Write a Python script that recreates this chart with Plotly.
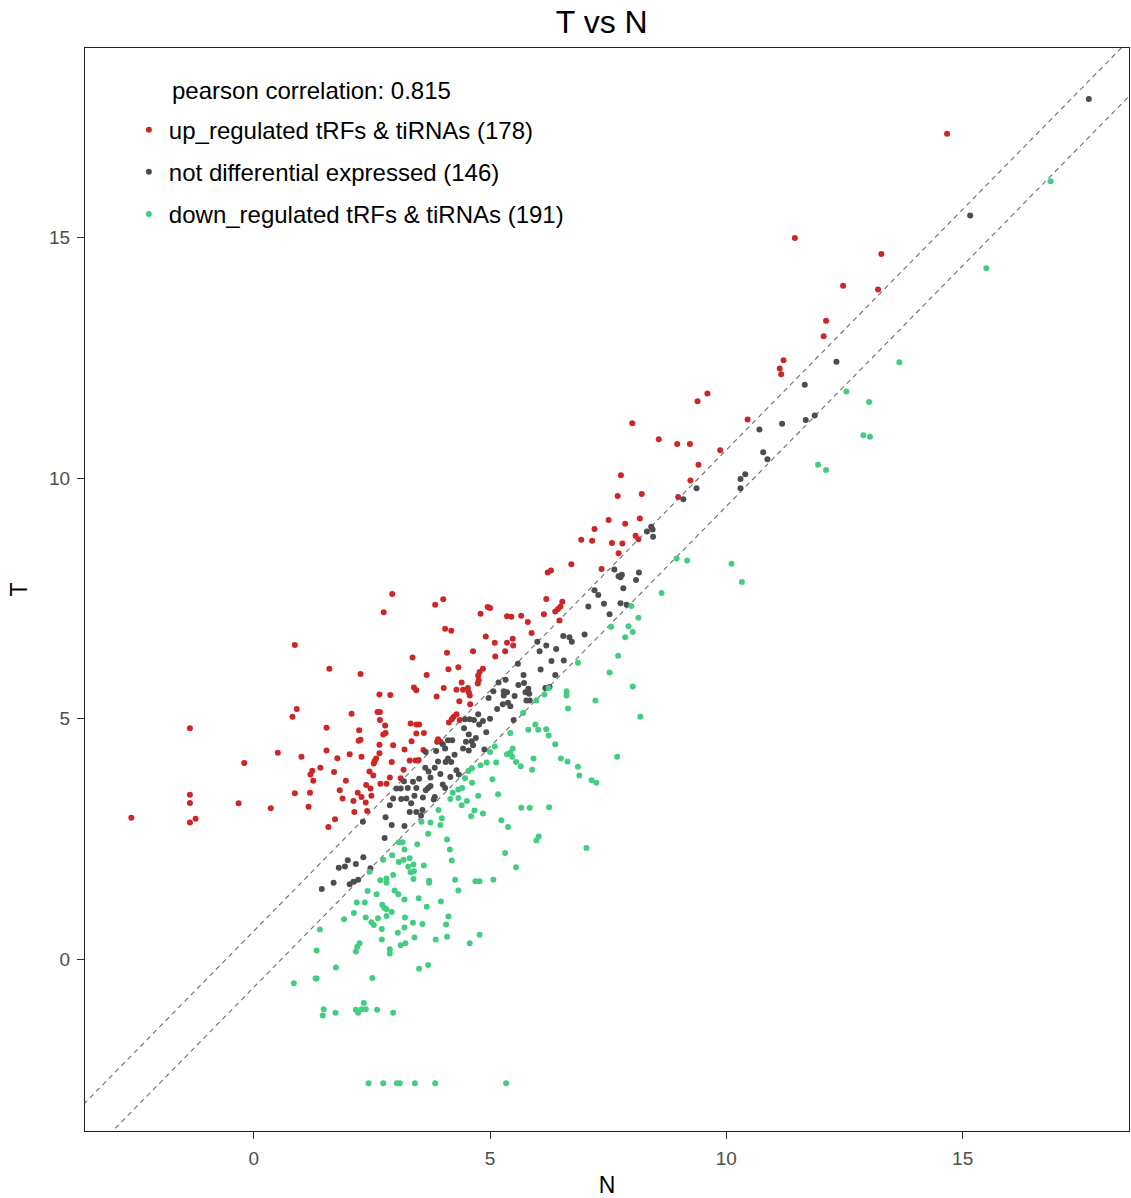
import math
import plotly.graph_objects as go

# ---------------- data (N, T) ----------------
up_N = [-1.35, -0.20, 0.51, -1.35, -1.35, -0.32, 0.36, -2.59, -1.23, -1.35,
        2.93, 2.75, 0.87, 1.60, 2.26, 3.36, 2.66, 2.89, 3.39, 3.44, 0.91, 0.82, 2.07, 2.62, 2.67,
        2.67, 2.78, 1.54, 2.23, 2.74, 2.79, 3.32, 3.44, 3.50, 3.44, 2.22, 2.26, 2.66, 3.34, 1.54,
        1.01, 1.77, 2.03, 2.28, 2.66, 2.59, 2.56, 2.54, 3.19, 3.30, 3.42, 3.49, 2.92, 1.41, 1.24,
        1.20, 1.26, 1.70, 1.95, 3.17, 0.87, 1.19, 1.82, 2.38, 2.47, 2.53, 2.68, 2.81, 2.88, 3.11,
        1.88, 2.20, 2.28, 2.49, 2.11, 2.37, 1.16, 2.13, 2.40, 1.72, 1.58,
        6.22, 6.29, 3.84, 4.01, 4.80, 4.95, 5.00, 6.19, 5.36, 5.45, 5.66, 5.80, 6.14, 6.38, 6.44,
        4.05, 4.18, 5.88, 4.91, 5.10, 5.36, 5.48, 5.49, 5.32, 5.11, 4.64, 4.09, 4.12, 4.33, 4.85,
        4.78, 4.75, 4.76, 4.74, 3.66, 4.02, 4.29, 4.43, 4.53, 4.55, 4.57, 3.87, 4.35, 4.58, 4.29,
        4.23, 4.19, 4.13, 4.36, 3.90, 3.95, 3.88, 3.59,
        7.70, 8.21, 9.24, 8.98, 7.51, 7.86, 8.17, 7.21, 6.93, 7.16, 7.58, 7.80, 8.08, 8.14, 7.72,
        6.72, 7.36, 6.53, 6.49, 6.47,
        9.60, 9.39, 8.01, 8.57, 8.96, 9.23, 10.45, 9.87, 9.41, 7.77,
        14.67, 11.45, 13.28, 12.47, 13.21, 12.11, 12.06, 11.21, 11.13, 11.16,
        2.95, 3.60, 4.40, 2.45]
up_T = [4.80, 4.08, 4.29, 3.42, 3.25, 3.24, 3.14, 2.94, 2.92, 2.84,
        7.59, 7.21, 6.53, 6.04, 5.93, 6.27, 5.50, 5.49, 5.65, 5.59, 5.20, 5.04, 5.10, 5.14, 5.14,
        4.97, 4.86, 4.81, 4.76, 4.67, 4.70, 4.90, 4.88, 4.88, 4.69, 4.54, 4.56, 4.46, 4.53, 4.34,
        4.21, 4.18, 4.26, 4.21, 4.28, 4.17, 4.12, 4.07, 4.36, 4.13, 4.13, 4.14, 4.10, 3.98, 3.92,
        3.84, 3.71, 3.89, 3.71, 3.94, 3.45, 3.46, 3.51, 3.62, 3.55, 3.82, 3.65, 3.65, 3.78, 3.76,
        3.34, 3.46, 3.37, 3.40, 3.29, 3.26, 3.17, 3.06, 3.08, 2.91, 2.75,
        8.04, 8.08, 7.37, 7.48, 7.18, 7.32, 7.30, 7.49, 7.13, 7.12, 7.14, 7.01, 7.17, 7.23, 7.28,
        6.87, 6.83, 6.78, 6.71, 6.58, 6.58, 6.66, 6.52, 6.40, 6.29, 6.40, 6.37, 6.03, 6.07, 6.04,
        5.97, 5.89, 5.80, 5.73, 5.91, 5.64, 5.60, 5.60, 5.64, 5.55, 5.48, 5.46, 5.36, 5.30, 5.09,
        5.04, 4.99, 4.92, 4.97, 4.57, 4.52, 4.52, 4.35,
        9.63, 9.67, 9.95, 9.61, 9.13, 9.05, 9.16, 8.94, 8.72, 8.70, 8.65, 8.64, 8.80, 8.73, 8.44,
        8.21, 8.11, 7.43, 7.33, 7.04,
        11.76, 11.60, 11.14, 10.81, 10.71, 10.71, 11.22, 10.58, 10.28, 10.06,
        17.16, 14.99, 14.66, 14.00, 13.92, 13.27, 12.95, 12.45, 12.28, 12.16,
        4.45, 4.70, 5.75, 3.90]

not_N = [3.18, 3.37, 3.44, 3.26, 3.02, 3.11, 2.95, 2.88, 3.12, 3.23, 3.33, 3.30, 3.44, 2.79, 2.31,
         2.92, 3.19,
         2.77, 2.32, 1.99, 1.93, 1.80, 2.16, 2.47, 1.69, 2.03, 2.11, 2.21, 1.44,
         6.00, 6.19, 6.05, 6.40, 5.59, 6.07, 5.71, 5.72, 5.81, 5.75, 6.38, 6.17, 6.26, 5.33, 5.18,
         5.07, 4.97, 5.29, 5.36, 5.29, 5.52, 5.27, 5.38, 5.43, 5.83, 5.77, 5.84, 4.75, 4.77, 4.47,
         4.57, 4.66, 4.92, 4.55, 4.49, 4.61, 4.64, 4.55, 4.43, 4.88, 5.50, 4.11, 4.00, 4.05, 3.86,
         3.64, 4.11, 4.06, 4.18, 3.90, 3.63, 3.83, 4.29, 4.34, 4.16, 3.74, 4.00, 4.05, 3.69, 3.74,
         3.64, 3.83, 3.81, 3.58, 3.57, 3.54,
         9.37, 9.09, 8.41, 8.44, 8.32, 8.45, 7.63, 7.72, 7.79, 7.76, 8.15, 8.09, 7.82, 7.21, 7.29,
         7.08, 7.41, 7.76, 7.89, 7.53, 6.55, 6.68, 6.73, 7.00, 6.56,
         11.66, 10.70, 11.18, 11.68, 11.87, 10.78, 10.87, 10.30, 10.40, 10.30,
         17.67, 15.16, 12.33,
         3.95, 4.25, 4.70, 5.00, 5.15, 4.45, 3.70, 3.40, 5.60, 6.30, 4.85, 3.50, 4.20]
not_T = [3.70, 3.69, 3.56, 3.56, 3.55, 3.55, 3.34, 3.20, 3.33, 3.34, 3.24, 3.06, 3.06, 2.95, 2.86,
         2.79, 2.77,
         2.52, 2.12, 2.06, 1.93, 1.90, 1.98, 1.89, 1.59, 1.56, 1.61, 1.65, 1.46,
         6.60, 6.52, 6.40, 6.45, 6.14, 6.02, 5.91, 5.74, 5.62, 5.55, 5.91, 5.64, 5.66, 5.81, 5.75,
         5.57, 5.43, 5.57, 5.55, 5.48, 5.47, 5.30, 5.33, 5.26, 5.52, 5.38, 5.38, 5.09, 4.88, 4.99,
         4.99, 4.97, 4.72, 4.67, 4.52, 4.53, 4.45, 4.34, 4.38, 4.36, 4.97, 4.55, 4.47, 4.38, 4.33,
         4.31, 4.17, 4.10, 4.10, 4.11, 3.98, 3.98, 3.93, 3.84, 3.79, 3.78, 3.63, 3.56, 3.56, 3.60,
         3.51, 3.37, 3.32, 3.36, 3.10, 2.99,
         9.79, 9.56, 8.99, 8.93, 8.89, 8.78, 8.10, 7.96, 7.99, 7.94, 8.04, 7.88, 7.71, 7.67, 7.57,
         7.33, 7.39, 7.40, 7.37, 7.17, 6.72, 6.69, 6.60, 6.75, 6.21,
         11.94, 11.01, 11.13, 11.21, 11.30, 10.54, 10.39, 9.98, 10.08, 9.79,
         17.88, 15.46, 12.42,
         3.85, 4.25, 4.60, 5.00, 5.20, 4.80, 3.90, 3.40, 5.70, 6.20, 4.95, 3.75, 4.55]

down_N = [3.07, 3.15, 3.46, 3.19, 2.93, 2.74, 3.07, 3.17, 3.27, 3.38,
          3.32, 3.39, 3.38, 2.45, 2.68, 2.81, 2.81, 2.41, 2.98, 3.06,
          3.19, 3.49, 2.18, 2.35, 2.72, 2.76, 2.81, 2.12, 2.92, 1.91,
          2.37, 2.63, 2.81, 3.20, 2.49, 2.54, 3.37, 3.19, 2.71, 1.40,
          2.71, 3.40, 2.24, 2.19, 2.16, 3.11, 3.21, 2.88, 2.88, 1.33,
          3.50, 1.74, 1.31, 1.33, 2.51, 0.85, 2.33, 2.16, 2.21, 2.28,
          2.37, 2.61, 2.95, 1.48, 1.46, 1.73, 2.43, 2.74, 3.03, 3.09, 3.41,
          6.24, 6.15, 5.98, 5.70, 5.43, 5.81, 5.96, 6.02, 6.19, 6.24, 6.38, 5.10, 5.00, 5.48, 5.43,
          5.36, 5.47, 5.92, 5.13, 4.93, 4.80, 5.65, 5.89, 4.62, 4.54, 4.47, 4.62, 5.05, 4.41, 4.33,
          4.21, 4.33, 4.16, 5.17, 4.51, 3.91, 4.67, 4.60, 4.85, 3.98, 3.95, 3.74, 5.24, 5.38, 5.66,
          5.84, 6.25, 3.55,
          3.69, 4.09, 4.15, 4.19, 5.32, 5.55, 5.98, 6.03, 3.71, 3.71, 4.26, 4.33, 4.69, 4.78, 5.07,
          3.96, 3.66, 4.12, 3.57, 4.07, 4.09, 3.85, 4.78, 4.57, 3.69, 3.84, 5.34,
          8.95, 9.17, 8.63, 7.99, 8.14, 7.56, 7.93, 8.02, 7.86, 7.71, 6.86, 7.53, 8.02, 6.62, 6.62,
          7.23, 6.65, 8.18, 6.50, 6.64, 6.86, 6.89, 7.15, 7.25, 7.69,
          7.04,
          12.54, 11.94, 12.11, 10.11, 10.33,
          16.86, 15.50, 13.66, 13.02, 12.90, 13.04,
          3.30, 2.95, 4.40, 5.55, 3.60, 2.60, 4.75, 3.05]
down_T = [2.43, 2.43, 2.39, 2.28, 2.16, 2.07, 2.02, 2.07, 1.92, 1.97,
          1.81, 1.83, 1.67, 1.82, 1.64, 1.68, 1.59, 1.42, 1.43, 1.35,
          1.24, 1.27, 1.18, 1.18, 1.13, 1.07, 1.04, 0.96, 0.98, 0.83,
          0.87, 0.85, 0.90, 0.87, 0.77, 0.71, 0.76, 0.66, 0.63, 0.62,
          0.41, 0.45, 0.33, 0.26, 0.16, 0.29, 0.33, 0.21, 0.12, 0.18,
          -0.20, -0.17, -0.40, -0.40, -0.39, -0.50, -0.91, -1.05, -1.11, -1.04,
          -1.04, -1.05, -1.11, -1.04, -1.17, -1.11, -2.58, -2.58, -2.58, -2.58, -2.58,
          5.64, 5.50, 5.38, 5.12, 4.70, 4.77, 4.88, 4.77, 4.78, 4.65, 4.47, 4.42, 4.31, 4.38, 4.29,
          4.26, 4.21, 4.17, 4.09, 4.09, 4.03, 4.01, 3.94, 3.97, 3.91, 3.76, 3.67, 3.74, 3.56, 3.53,
          3.46, 3.35, 3.33, 3.43, 3.29, 3.10, 3.09, 2.97, 3.03, 2.93, 2.79, 2.84, 2.89, 2.75, 3.15,
          3.15, 3.16, 2.86,
          2.61, 2.49, 2.28, 2.05, 2.21, 1.91, 2.47, 2.55, 1.63, 1.59, 1.65, 1.43, 1.62, 1.62, 1.65,
          1.20, 1.09, 0.89, 0.73, 0.72, 0.47, 0.41, 0.51, 0.33, -0.12, -2.58, -2.58,
          8.33, 8.29, 7.61, 7.34, 7.10, 6.91, 6.92, 6.80, 6.69, 6.31, 6.16, 5.96, 5.67, 5.57, 5.48,
          5.38, 5.21, 5.04, 4.17, 4.11, 4.00, 3.82, 3.72, 3.67, 4.21,
          2.31,
          11.80, 10.28, 10.17, 8.22, 7.84,
          16.17, 14.36, 12.41, 11.58, 10.89, 10.86,
          2.10, 1.75, 3.20, 4.10, 1.95, 1.35, 3.40, 0.55]

pearson = 0.815
fold_offset = math.log2(1.5)  # dashed guide lines: T = N +/- log2(1.5)
guide_N = [-4.0, 19.0]

series = [
    ("up_regulated tRFs & tiRNAs", up_N, up_T, "#CD2626"),
    ("not differential expressed", not_N, not_T, "#4D4D4D"),
    ("down_regulated tRFs & tiRNAs", down_N, down_T, "#43CD80"),
]

fig = go.Figure()

for sgn in (1, -1):
    fig.add_trace(go.Scatter(
        x=guide_N, y=[v + sgn * fold_offset for v in guide_N],
        mode="lines", line=dict(color="#6E6E6E", width=1.1, dash="5px,4px"),
        showlegend=False, hoverinfo="skip"))

for i, (name, xs, ys, col) in enumerate(series):
    fig.add_trace(go.Scatter(
        x=xs, y=ys, mode="markers",
        name=f"{name} ({len(xs)})",
        legendgroup=f"g{i}",
        marker=dict(color=col, size=6, line=dict(width=0)),
    ))

axis_common = dict(
    showline=True, linecolor="#222222", linewidth=1.2, mirror=True,
    showgrid=False, zeroline=False,
    ticks="outside", ticklen=7, tickcolor="#333333", tickwidth=1.1,
    ticklabelstandoff=3,
    tickfont=dict(family="Liberation Sans, Arial, sans-serif", size=19, color="#4D4D4D"),
    tickvals=[0, 5, 10, 15],
)

fig.update_layout(
    width=1131, height=1198,
    margin=dict(l=85, r=1, t=48, b=65),
    paper_bgcolor="white", plot_bgcolor="white",
    font=dict(family="Liberation Sans, Arial, sans-serif", color="black"),
    title=dict(text="T vs N", xref="paper", x=0.495, xanchor="center",
               y=0.982, yanchor="middle",
               font=dict(size=32, color="black")),
    xaxis=dict(range=[-3.57, 18.52],
               title=dict(text="N", font=dict(size=23), standoff=12), **axis_common),
    yaxis=dict(range=[-3.57, 18.94],
               title=dict(text="T", font=dict(size=23), standoff=14), **axis_common),
    legend=dict(x=0.042, y=0.945, xanchor="left", yanchor="top",
                bgcolor="rgba(0,0,0,0)", font=dict(size=24, color="black"),
                tracegroupgap=8, itemsizing="trace"),
    annotations=[dict(
        text=f"pearson correlation: {pearson}", xref="paper", yref="paper",
        x=0.0813, y=0.961, xanchor="left", yanchor="middle", showarrow=False,
        font=dict(size=24, color="black"))],
)

fig.write_html("out.html")
